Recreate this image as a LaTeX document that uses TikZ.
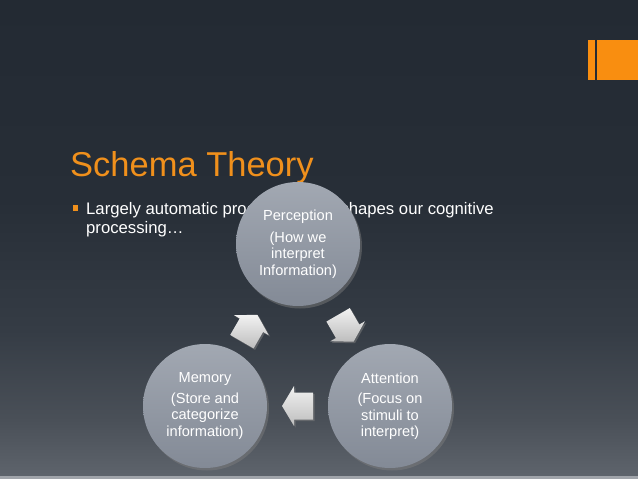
\documentclass[tikz,border=0pt]{standalone}
\usepackage{fontspec}
\setmainfont{Liberation Sans}
\usetikzlibrary{shadows,calc}
\definecolor{bgA}{HTML}{232A33}
\definecolor{bgB}{HTML}{272E37}
\definecolor{bgC}{HTML}{353C45}
\definecolor{bgD}{HTML}{4A5058}
\definecolor{bgE}{HTML}{5E646C}
\definecolor{stripC}{HTML}{A0A4AA}
\definecolor{titleOrange}{HTML}{F0901C}
\definecolor{logoOrange}{HTML}{F98E10}
\definecolor{circTop}{HTML}{A2A8B2}
\definecolor{circBot}{HTML}{838A96}
\definecolor{arrTop}{HTML}{F2F2F2}
\definecolor{arrBot}{HTML}{BDBDBD}
\begin{document}
\begin{tikzpicture}[x=1pt,y=-1pt,
  bubble/.style={circle, minimum size=124pt, inner sep=0pt, top color=circTop, bottom color=circBot,
    text=white, align=center, font=\fontsize{14.6}{16.5}\selectfont,
    drop shadow={shadow xshift=2pt, shadow yshift=-2.5pt, opacity=0.45}},
  cyclearrow/.style={top color=arrTop, bottom color=arrBot,
    drop shadow={shadow xshift=1.5pt, shadow yshift=-1.5pt, opacity=0.5}},
  bodytext/.style={anchor=base west, inner sep=0pt, font=\fontsize{16.7}{19.5}\selectfont, text=white}]
\useasboundingbox (0,0) rectangle (638,479);
% background bands
\shade[top color=bgA, bottom color=bgB] (0,0) rectangle (638,200.5);
\shade[top color=bgB, bottom color=bgC] (0,200) rectangle (638,330.5);
\shade[top color=bgC, bottom color=bgD] (0,330) rectangle (638,420.5);
\shade[top color=bgD, bottom color=bgE] (0,420) rectangle (638,476.5);
\fill[stripC] (0,476) rectangle (638,479);
% logo bars
\fill[logoOrange] (588,40) rectangle (595,80);
\fill[logoOrange] (597,40) rectangle (638,80);
% title and bullet
\node[anchor=base west, inner sep=0pt, font=\fontsize{34.5}{40}\selectfont, text=titleOrange] (title) at (70,176) {Schema Theory};
\node[fill=titleOrange, minimum width=5pt, minimum height=6pt, inner sep=0pt] (bul) at (75.5,208) {};
\node[bodytext] (btext1) at (86,214) {Largely automatic processing that shapes our cognitive};
\node[bodytext] (btext2) at (86,233.5) {processing…};
% circles
\node[bubble] (perc) at (298,244) {Perception\\[5pt](How we\\interpret\\Information)};
\node[bubble] (mem) at (205,406) {Memory\\[4pt](Store and\\categorize\\information)};
\node[bubble] (att) at (390,406) {Attention\\[4pt](Focus on\\stimuli to\\interpret)};
% cycle arrows
\path[cyclearrow, shift={($(mem)!0.48!(perc)$)}, rotate=60]
  (15.5,0) -- (3.5,20) -- (3.5,13.5) -- (-15.5,13.5) -- (-15.5,-13.5) -- (3.5,-13.5) -- (3.5,-20) -- cycle;
\path[cyclearrow, shift={($(perc)!0.52!(att)$)}, rotate=-60]
  (15.5,0) -- (3.5,20) -- (3.5,13.5) -- (-15.5,13.5) -- (-15.5,-13.5) -- (3.5,-13.5) -- (3.5,-20) -- cycle;
\path[cyclearrow, shift={($(att)!0.5!(mem)$)}, rotate=180]
  (15.5,0) -- (3.5,20) -- (3.5,13.5) -- (-15.5,13.5) -- (-15.5,-13.5) -- (3.5,-13.5) -- (3.5,-20) -- cycle;
\end{tikzpicture}
\end{document}
